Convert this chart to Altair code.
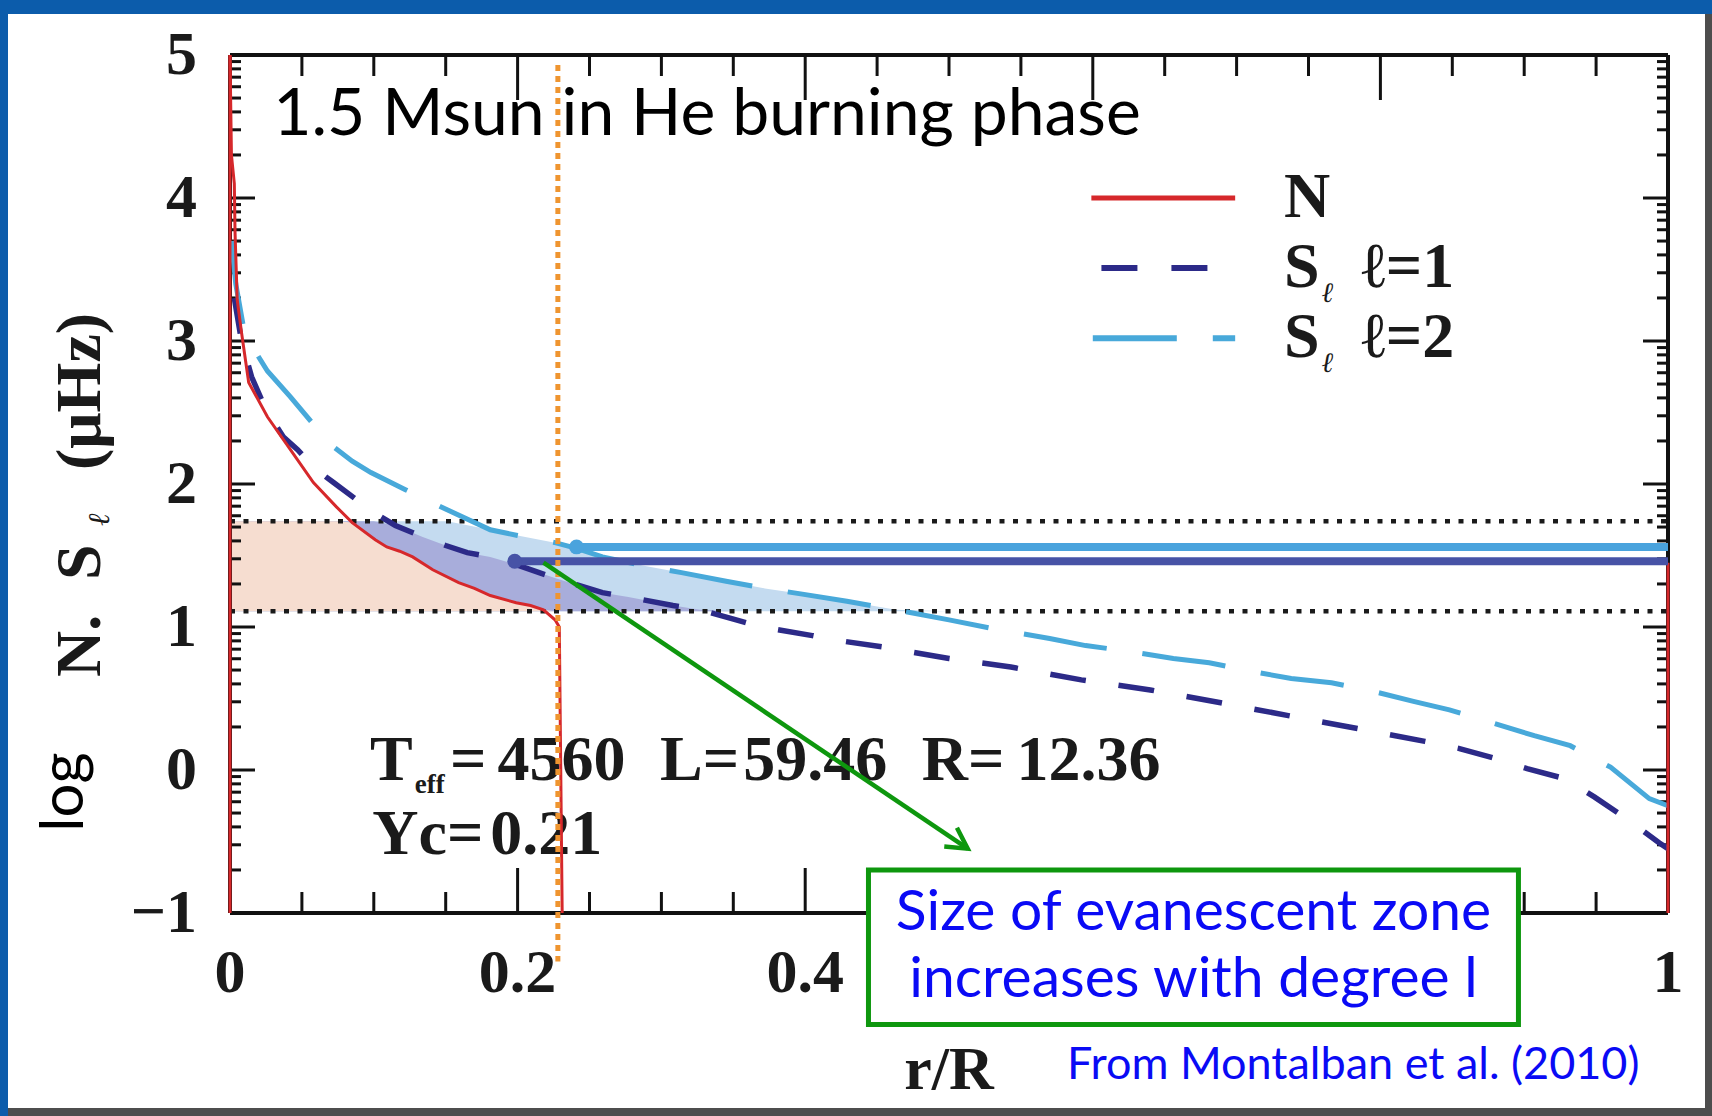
import math
import altair as alt
import pandas as pd

# ---------------------------------------------------------------------------
# Propagation diagram of a 1.5 Msun red-clump star (log N, log S_l vs r/R)
# ---------------------------------------------------------------------------

# Brunt-Vaisala frequency N: radiative core profile
n_r = [0.0, 0.001, 0.003, 0.0035, 0.005, 0.008, 0.011, 0.013, 0.026, 0.042,
       0.058, 0.074, 0.085, 0.101, 0.109, 0.118, 0.127, 0.141, 0.159, 0.170,
       0.181, 0.199, 0.209, 0.218, 0.226, 0.229, 0.231]
n_v = [5.0, 4.3, 4.1, 3.76, 3.29, 3.06, 2.85, 2.71, 2.47, 2.24,
       2.01, 1.84, 1.73, 1.61, 1.56, 1.53, 1.49, 1.40, 1.31, 1.27,
       1.22, 1.17, 1.15, 1.12, 1.05, 1.00, -1.0]
# N along the centre and at the surface
n_core_r = [0.0, 0.0]
n_core_v = [-1.0, 5.0]
n_surf_r = [1.0, 1.0]
n_surf_v = [1.45, -1.0]

# Lamb frequency, l = 1
s1_r = [0.003, 0.008, 0.015, 0.025, 0.037, 0.047, 0.060, 0.072, 0.088, 0.100,
        0.115, 0.134, 0.150, 0.165, 0.181, 0.198, 0.215, 0.227, 0.259, 0.277,
        0.308, 0.327, 0.352, 0.370, 0.405, 0.420, 0.454, 0.500, 0.543, 0.592,
        0.640, 0.689, 0.736, 0.784, 0.831, 0.855, 0.880, 0.902, 0.928, 0.949,
        0.971, 0.994, 1.0]
s1_v = [3.30, 3.00, 2.75, 2.52, 2.33, 2.24, 2.10, 2.01, 1.89, 1.80,
        1.71, 1.63, 1.57, 1.52, 1.49, 1.44, 1.38, 1.34, 1.24, 1.21,
        1.15, 1.12, 1.05, 1.00, 0.94, 0.91, 0.86, 0.78, 0.72, 0.63,
        0.56, 0.47, 0.38, 0.29, 0.20, 0.15, 0.08, 0.01, -0.06, -0.19,
        -0.34, -0.51, -0.55]

# Lamb frequency, l = 2
s2_r = [0.001, 0.004, 0.010, 0.018, 0.026, 0.042, 0.057, 0.072, 0.085, 0.098,
        0.122, 0.151, 0.181, 0.200, 0.226, 0.241, 0.259, 0.287, 0.314, 0.345,
        0.372, 0.398, 0.429, 0.463, 0.500, 0.535, 0.570, 0.595, 0.625, 0.656,
        0.681, 0.710, 0.738, 0.766, 0.795, 0.823, 0.848, 0.878, 0.907, 0.932,
        0.960, 0.987, 1.0]
s2_v = [3.70, 3.40, 3.06, 2.92, 2.79, 2.61, 2.43, 2.26, 2.16, 2.08,
        1.96, 1.82, 1.68, 1.64, 1.59, 1.55, 1.49, 1.43, 1.38, 1.32,
        1.27, 1.23, 1.18, 1.12, 1.05, 0.98, 0.92, 0.87, 0.83, 0.78,
        0.75, 0.69, 0.64, 0.61, 0.55, 0.48, 0.42, 0.33, 0.24, 0.17,
        0.02, -0.20, -0.25]

# Observed frequency band (log muHz)
band_lo, band_hi = 1.11, 1.74

# Mode frequencies: start radius on the Lamb profile, log frequency
mode_names = ["l=1", "l=2"]
mode_r0 = [0.198, 0.241]
mode_v = [1.46, 1.56]
mode_colors = ["#4753a6", "#4aa3dd"]

# Core boundary marker
core_edge_r = 0.228
core_edge_v = [4.93, -1.34]

# Axis ticks and labels
x_label_vals = [0, 0.2, 0.4, 1]
x_label_text = ["0", "0.2", "0.4", "1"]
y_label_vals = [-1, 0, 1, 2, 3, 4, 5]
y_label_text = ["−1", "0", "1", "2", "3", "4", "5"]
x_major = [0.0, 0.2, 0.4, 0.6, 0.8, 1.0]
x_minor = [0.05, 0.1, 0.15, 0.25, 0.3, 0.35, 0.45, 0.5, 0.55,
           0.65, 0.7, 0.75, 0.85, 0.9, 0.95]
y_decades = [-1, 0, 1, 2, 3, 4]
log_subs = [0.301, 0.477, 0.602, 0.699, 0.778, 0.845, 0.903, 0.954]

# Arrow from the mode lines to the note
arrow_r = [0.218, 0.513]
arrow_v = [1.45, -0.55]

# Note box
box_r = [0.444, 0.896]
box_v = [-0.70, -1.78]

# ---------------------------------------------------------------------------
W, H = 1438, 858
PAD = {"left": 230, "top": 55, "right": 44, "bottom": 203}

RED = "#d6282b"
NAVY = "#2c2a88"
CYAN = "#48a9da"
GREEN = "#0e970e"
ORANGE = "#ef9530"
INK = "#1a1a1a"

SERIF = "Liberation Serif, DejaVu Serif, serif"
SANS = "Lato, Open Sans, sans-serif"
HAND = "Lato, Open Sans, sans-serif"

xs = alt.Scale(domain=[0, 1], nice=False, zero=False)
ys = alt.Scale(domain=[-1, 5], nice=False, zero=False)


def X(f):
    return alt.X(f, type="quantitative", scale=xs, axis=None)


def Y(f):
    return alt.Y(f, type="quantitative", scale=ys, axis=None)


def text_layer(rows, **props):
    df = pd.DataFrame(rows, columns=["t", "r", "v"])
    return alt.Chart(df).mark_text(clip=False, **props).encode(
        x=X("r"), y=Y("v"), text="t:N")


one = pd.DataFrame({"k": [0]})
layers = []

# slide panel
layers.append(alt.Chart(one).mark_rect(color="#4d4d4d", clip=False).encode(
    x=alt.value(-222), x2=alt.value(W + PAD["right"]),
    y=alt.value(-41), y2=alt.value(H + PAD["bottom"])))
layers.append(alt.Chart(one).mark_rect(color="white", clip=False).encode(
    x=alt.value(-222), x2=alt.value(1475),
    y=alt.value(-41), y2=alt.value(1053)))


# shaded propagation / evanescent regions inside the observed band
def band_fill(r, v, color):
    df = pd.DataFrame({"r": r, "v": v})
    return alt.Chart(df).transform_calculate(
        vc=f"min(max(datum.v, {band_lo}), {band_hi})"
    ).mark_area(color=color, opacity=1).encode(
        x=X("r"), y=Y("vc"), y2=alt.datum(band_lo))


layers.append(band_fill(s2_r, s2_v, "#c4dbf0"))
layers.append(band_fill(s1_r, s1_v, "#a8addb"))
layers.append(band_fill(n_r, n_v, "#f6ddd0"))

# band limits
band_df = pd.DataFrame({"v": [band_lo, band_hi], "r0": [0, 0], "r1": [1, 1]})
layers.append(alt.Chart(band_df).mark_rule(
    color=INK, strokeWidth=4.5, strokeDash=[5, 8.5]).encode(
    y=Y("v"), x=X("r0"), x2="r1"))

# frame
frame_df = pd.DataFrame({"x0": [0, 0, 0, 1], "x1": [1, 1, 0, 1],
                         "y0": [5, -1, -1, -1], "y1": [5, -1, 5, 5]})
layers.append(alt.Chart(frame_df).mark_rule(color="#111", strokeWidth=4).encode(
    x=X("x0"), x2="x1", y=Y("y0"), y2="y1"))


# inward ticks
def yticks(values, length):
    df = pd.DataFrame({"v": values})
    left = alt.Chart(df).mark_rule(color="#111", strokeWidth=3).encode(
        y=Y("v"), x=alt.value(0), x2=alt.value(length))
    right = alt.Chart(df).mark_rule(color="#111", strokeWidth=3).encode(
        y=Y("v"), x=alt.value(W), x2=alt.value(W - length))
    return [left, right]


def xticks(values, length):
    df = pd.DataFrame({"r": values})
    bottom = alt.Chart(df).mark_rule(color="#111", strokeWidth=3).encode(
        x=X("r"), y=alt.value(H), y2=alt.value(H - length))
    top = alt.Chart(df).mark_rule(color="#111", strokeWidth=3).encode(
        x=X("r"), y=alt.value(0), y2=alt.value(length))
    return [bottom, top]


y_minor = [d + s for d in y_decades for s in log_subs]
layers += yticks(y_label_vals, 25)
layers += yticks(y_minor, 11)
layers += xticks(x_major, 45)
layers += xticks(x_minor, 21)

# tick labels
xl_df = pd.DataFrame({"r": x_label_vals, "t": x_label_text, "v": -1})
layers.append(alt.Chart(xl_df).mark_text(
    font=SERIF, fontSize=62, fontWeight="bold", color=INK, align="center",
    baseline="middle", dy=60, clip=False).encode(x=X("r"), y=Y("v"), text="t:N"))
yl_df = pd.DataFrame({"v": y_label_vals, "t": y_label_text, "r": 0})
layers.append(alt.Chart(yl_df).mark_text(
    font=SERIF, fontSize=62, fontWeight="bold", color=INK, align="right",
    baseline="middle", dx=-33, clip=False).encode(x=X("r"), y=Y("v"), text="t:N"))

# stellar parameters
stat_rows = [("T", 0.0974, 0.063), ("=", 0.153, 0.063), ("4560", 0.186, 0.063),
             ("L=", 0.299, 0.063), ("59.46", 0.357, 0.063), ("R=", 0.481, 0.063),
             ("12.36", 0.547, 0.063), ("Yc=", 0.099, -0.455), ("0.21", 0.181, -0.455)]
layers.append(text_layer(stat_rows, font=SERIF, fontSize=64, fontWeight="bold",
                         color=INK, align="left", baseline="middle"))
layers.append(text_layer([("eff", 0.1285, -0.105)], font=SERIF, fontSize=27,
                         fontWeight="bold", color=INK, align="left",
                         baseline="middle"))

# title inside the frame
layers.append(text_layer([("1.5 Msun in He burning phase", 0.030, 4.58)],
                         font=SANS, fontSize=66, color="black", align="left",
                         baseline="middle"))


# profiles
def curve(rs, vs, color, width, dash=None, seg=None):
    df = pd.DataFrame({"r": rs, "v": vs, "i": range(len(rs)),
                       "seg": seg if seg is not None else [0] * len(rs)})
    props = dict(color=color, strokeWidth=width, clip=False)
    if dash:
        props["strokeDash"] = dash
    return alt.Chart(df).mark_line(**props).encode(
        x=X("r"), y=Y("v"), order="i:Q", detail="seg:N")


layers.append(curve(s2_r, s2_v, CYAN, 5, [84, 36]))
layers.append(curve(s1_r, s1_v, NAVY, 5.5, [36, 33]))
layers.append(curve(n_core_r + n_r + n_surf_r, n_core_v + n_v + n_surf_v, RED, 3,
                    seg=[0] * 2 + [1] * len(n_r) + [2] * 2))

# mode frequency lines
mode_df = pd.DataFrame({"mode": mode_names, "r0": mode_r0, "r1": [1.0, 1.0],
                        "v": mode_v})
cmode = alt.Color("mode:N", scale=alt.Scale(domain=mode_names, range=mode_colors),
                  legend=None)
layers.append(alt.Chart(mode_df).mark_rule(strokeWidth=8).encode(
    x=X("r0"), x2="r1", y=Y("v"), color=cmode))
layers.append(alt.Chart(mode_df).mark_point(filled=True, size=220, opacity=1,
                                            shape="circle").encode(
    x=X("r0"), y=Y("v"), color=cmode))

# core boundary
core_df = pd.DataFrame({"r": [core_edge_r], "v0": [core_edge_v[0]],
                        "v1": [core_edge_v[1]]})
layers.append(alt.Chart(core_df).mark_rule(color=ORANGE, strokeWidth=5,
                                           strokeDash=[6, 5], clip=False).encode(
    x=X("r"), y=Y("v0"), y2="v1"))

# legend
leg_df = pd.DataFrame({"r0": [0.599, 0.606, 0.600], "r1": [0.699, 0.690, 0.699],
                       "v": [4.0, 3.51, 3.02]})
layers.append(alt.Chart(leg_df.iloc[[0]]).mark_rule(color=RED, strokeWidth=5).encode(
    x=X("r0"), x2="r1", y=Y("v")))
layers.append(alt.Chart(leg_df.iloc[[1]]).mark_rule(
    color=NAVY, strokeWidth=6, strokeDash=[36, 34]).encode(x=X("r0"), x2="r1", y=Y("v")))
layers.append(alt.Chart(leg_df.iloc[[2]]).mark_rule(
    color=CYAN, strokeWidth=6, strokeDash=[84, 36]).encode(x=X("r0"), x2="r1", y=Y("v")))
leg_rows = [("N", 0.733, 4.0), ("S", 0.733, 3.51), ("S", 0.733, 3.02),
            ("ℓ=1", 0.787, 3.51), ("ℓ=2", 0.787, 3.02)]
layers.append(text_layer(leg_rows, font=SERIF, fontSize=64, fontWeight="bold",
                         color=INK, align="left", baseline="middle"))
layers.append(text_layer([("ℓ", 0.759, 3.33), ("ℓ", 0.759, 2.84)], font=SERIF,
                         fontSize=28, fontStyle="italic", color=INK,
                         align="left", baseline="middle"))

# axis titles
layers.append(text_layer([("log", -0.115, -0.154)], font=SANS, fontSize=60,
                         color="black", angle=270, align="center", baseline="middle"))
layers.append(text_layer([("N.", -0.1036, 0.65), ("S", -0.1036, 1.329),
                          ("(μHz)", -0.1036, 2.098)], font=SERIF, fontSize=64,
                         fontWeight="bold", color=INK, angle=270,
                         align="left", baseline="middle"))
layers.append(text_layer([("ℓ", -0.0904, 1.75)], font=SERIF, fontSize=30,
                         fontStyle="italic", color=INK, angle=270,
                         align="center", baseline="middle"))
layers.append(text_layer([("r/R", 0.50, -2.10)], font=SERIF, fontSize=62,
                         fontWeight="bold", color=INK, align="center",
                         baseline="middle"))

# arrow to the note
arrow_df = pd.DataFrame({"r": arrow_r, "v": arrow_v, "i": [0, 1]})
layers.append(alt.Chart(arrow_df).mark_line(color=GREEN, strokeWidth=4.5,
                                            clip=False).encode(
    x=X("r"), y=Y("v"), order="i:Q"))
dx = (arrow_r[1] - arrow_r[0]) * W
dy = (arrow_v[0] - arrow_v[1]) * H / 6.0
head_angle = math.degrees(math.atan2(dy, dx))
layers.append(alt.Chart(arrow_df.iloc[[1]]).mark_point(
    shape="M -1 -0.55 L 0 0 L -1 0.55", filled=False, size=1700, strokeWidth=4.5,
    color=GREEN, opacity=1, angle=head_angle, clip=False).encode(x=X("r"), y=Y("v")))

# note box
box_df = pd.DataFrame({"r0": [box_r[0]], "r1": [box_r[1]],
                       "v0": [box_v[0]], "v1": [box_v[1]]})
layers.append(alt.Chart(box_df).mark_rect(fill="white", stroke=GREEN, strokeWidth=5,
                                          clip=False).encode(
    x=X("r0"), x2="r1", y=Y("v0"), y2="v1"))
note_rows = [("Size of evanescent zone", 0.67, -1.0),
             ("increases with degree l", 0.67, -1.47)]
layers.append(text_layer(note_rows, font=HAND, fontSize=57, color="#0a0af5",
                         align="center", baseline="middle"))
layers.append(text_layer([("From Montalban et al. (2010)", 0.582, -2.06)],
                         font=HAND, fontSize=45, color="#0a0af5", align="left",
                         baseline="middle"))

chart = alt.layer(*layers).properties(
    width=W, height=H,
    autosize=alt.AutoSizeParams(type="none"),
    padding=PAD,
    background="#0c5cab",
).configure_view(stroke=None)

chart.save("out.html", embed_options={"renderer": "svg", "actions": False})
